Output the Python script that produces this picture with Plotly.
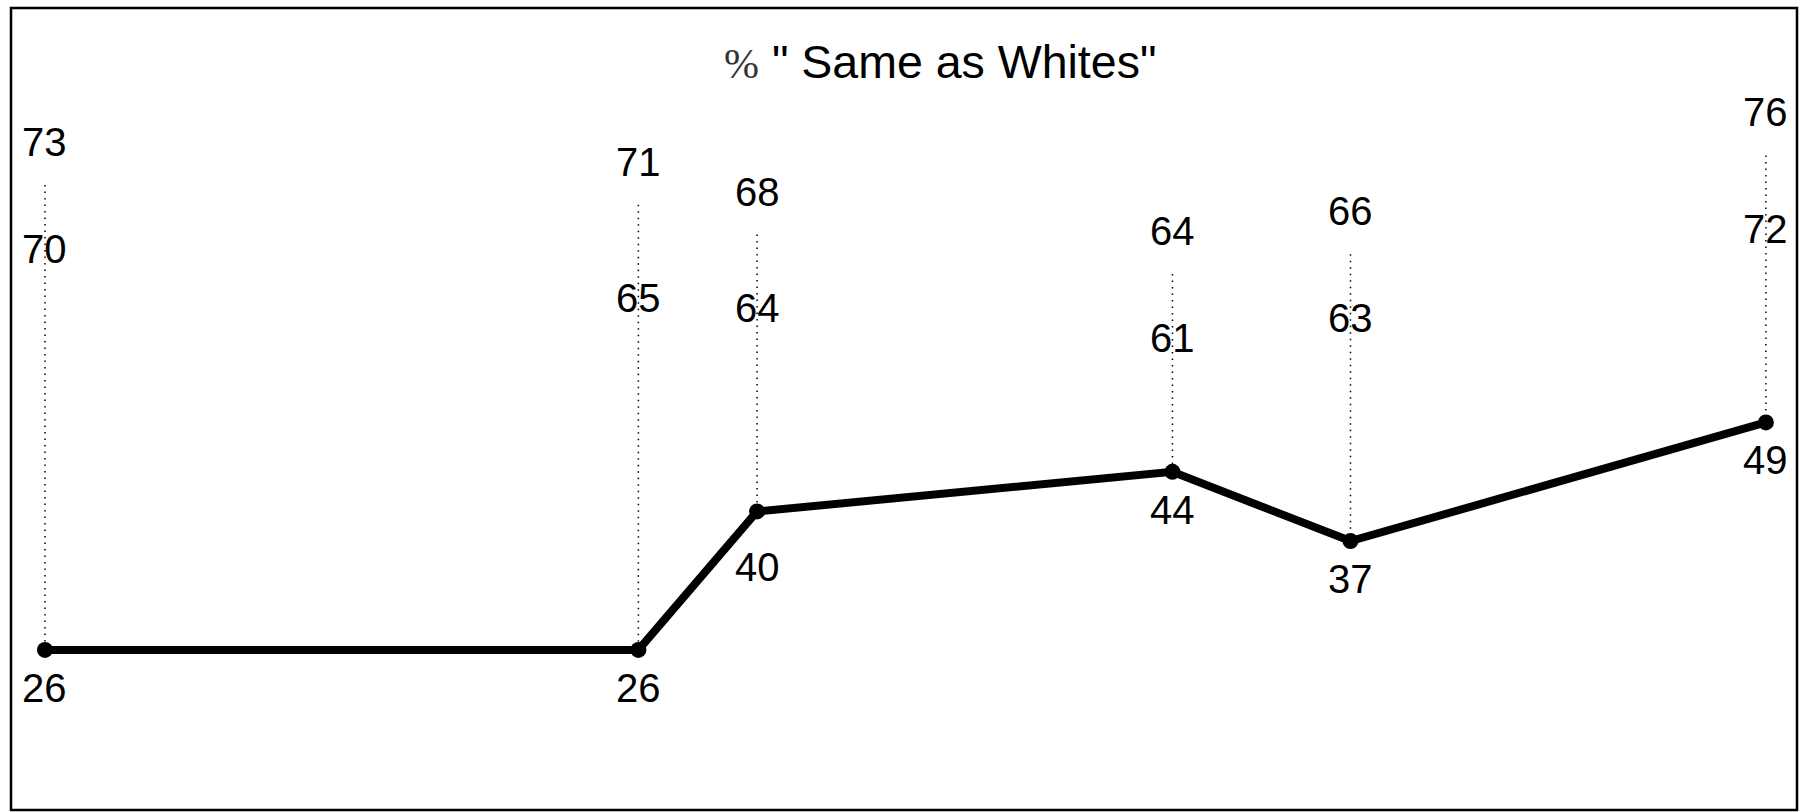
import plotly.graph_objects as go

# Data
years = [1962, 1972, 1974, 1981, 1984, 1991]
same_as_whites = [26, 26, 40, 44, 37, 49]   # plotted line
middle_values = [70, 65, 64, 61, 63, 72]    # middle labels
top_values = [73, 71, 68, 64, 66, 76]       # top labels (end of dotted drops)

title_text = ("<span style='font-family:\"Liberation Serif\";font-size:42px;color:#333'>%</span>"
              " \" Same as Whites\"")

FONT = "Liberation Sans, Arial, Helvetica, sans-serif"

fig = go.Figure()

# dotted drop lines from the top value down to the plotted point
dx, dy = [], []
for x, lo, hi in zip(years, same_as_whites, top_values):
    dx += [x, x, None]
    dy += [hi, lo, None]
fig.add_trace(go.Scatter(
    x=dx, y=dy, mode="lines",
    line=dict(color="black", width=1.5, dash="1.5px,5px"),
    hoverinfo="skip", showlegend=False,
))

# main line
fig.add_trace(go.Scatter(
    x=years, y=same_as_whites, mode="lines+markers",
    line=dict(color="black", width=8),
    marker=dict(color="black", size=16),
    showlegend=False,
))

annotations = []
for i, (x, lo, mid, hi) in enumerate(zip(years, same_as_whites, middle_values, top_values)):
    annotations.append(dict(x=x, y=hi, text=str(hi), showarrow=False,
                            xanchor="center", yanchor="middle", yshift=43,
                            font=dict(family=FONT, size=40, color="black")))
    annotations.append(dict(x=x, y=mid, text=str(mid), showarrow=False,
                            xanchor="center", yanchor="middle", yshift=-34,
                            font=dict(family=FONT, size=40, color="black")))
    annotations.append(dict(x=x, y=lo, text=str(lo), showarrow=False,
                            xanchor="center", yanchor="middle",
                            yshift=-56 if i == 2 else -38,
                            font=dict(family=FONT, size=40, color="black")))

annotations.append(dict(x=0.522, y=0.9236, xref="paper", yref="paper",
                        text=title_text, showarrow=False,
                        xanchor="center", yanchor="middle",
                        font=dict(family=FONT, size=46.5, color="black")))

fig.update_layout(
    width=1800, height=812,
    margin=dict(l=0, r=0, t=0, b=0),
    paper_bgcolor="white", plot_bgcolor="white",
    xaxis=dict(range=[1961.242, 1991.575], visible=False, fixedrange=True),
    yaxis=dict(range=[9.61, 91.71], visible=False, fixedrange=True),
    annotations=annotations,
    shapes=[dict(type="rect", xref="paper", yref="paper",
                 x0=11 / 1800, x1=1797 / 1800, y0=2 / 812, y1=1 - 8 / 812,
                 line=dict(color="black", width=2.5))],
)

fig.write_html(
    "out.html",
    config={"displayModeBar": False},
    post_script="document.body.style.margin='0';document.body.style.overflow='hidden';",
)
